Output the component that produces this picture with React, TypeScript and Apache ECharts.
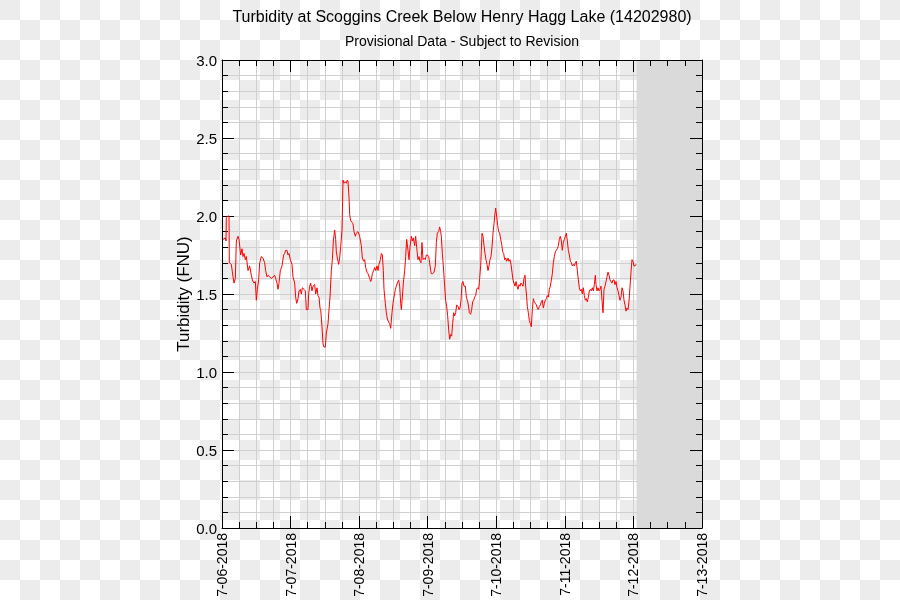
import React, { useEffect, useRef } from "react";
import * as echarts from "echarts";

// Day tick labels (one per 24 h from 7-06-2018 00:00)
const dayLabels = [
  "7-06-2018", "7-07-2018", "7-08-2018", "7-09-2018",
  "7-10-2018", "7-11-2018", "7-12-2018", "7-13-2018",
];

// Y tick values
const yTickMin = 0;
const yTickMax = 3;
const yTickStep = 0.5;

// Turbidity readings: [hours since 7-06-2018 00:00, FNU]
const day1Readings: [number, number][] = [
  [0.35, 1.85], [1.17, 1.86], [1.4, 1.84], [1.52, 1.99], [2.0, 2.0], [2.45, 2.0], [2.57, 1.7],
  [3.27, 1.69], [3.85, 1.61], [4.2, 1.57], [4.67, 1.6], [5.02, 1.84], [5.6, 1.87], [5.95, 1.85],
  [6.53, 1.75], [7.0, 1.79], [7.35, 1.74], [7.7, 1.76], [8.17, 1.72], [8.52, 1.74], [9.1, 1.65],
  [9.68, 1.68], [10.27, 1.62], [10.62, 1.59], [11.2, 1.57], [11.67, 1.58], [12.02, 1.46],
  [12.37, 1.53], [12.83, 1.59], [13.18, 1.7], [13.77, 1.74], [14.35, 1.73], [14.93, 1.7],
  [15.28, 1.65], [15.75, 1.61], [16.1, 1.62], [16.68, 1.61], [17.27, 1.6], [17.85, 1.61],
  [18.43, 1.62], [18.78, 1.6], [19.25, 1.57], [19.6, 1.53], [19.95, 1.57], [20.42, 1.65],
  [21.0, 1.68], [21.58, 1.75], [21.93, 1.76], [22.28, 1.78], [22.75, 1.78], [23.1, 1.75],
  [23.45, 1.76], [23.92, 1.72],
];
const day2Readings: [number, number][] = [
  [24.5, 1.69], [24.85, 1.61], [25.43, 1.57], [25.78, 1.48], [26.13, 1.44], [26.6, 1.47],
  [26.95, 1.52], [27.42, 1.53], [27.77, 1.5], [28.12, 1.54], [28.7, 1.53], [29.17, 1.52],
  [29.52, 1.4], [30.1, 1.4], [30.33, 1.5], [30.68, 1.55], [31.03, 1.57], [31.5, 1.52],
  [31.85, 1.55], [32.43, 1.56], [32.78, 1.5], [33.25, 1.54], [33.6, 1.49], [33.95, 1.48],
  [34.3, 1.41], [34.53, 1.4], [35.0, 1.29], [35.35, 1.18], [35.7, 1.16], [36.17, 1.16],
  [36.52, 1.25], [37.1, 1.31], [37.45, 1.4], [37.8, 1.48], [38.27, 1.65], [38.62, 1.72],
  [38.97, 1.84], [39.43, 1.91], [39.78, 1.85], [40.02, 1.77], [40.37, 1.73], [40.83, 1.69],
  [41.18, 1.73], [41.53, 1.8], [42.0, 1.91], [42.35, 2.23], [42.7, 2.21], [43.17, 2.22],
  [43.52, 2.21], [43.87, 2.23], [44.1, 2.22], [44.45, 2.12], [44.68, 2.01], [45.03, 1.97],
  [45.5, 1.96], [45.85, 1.95], [46.2, 1.9], [46.67, 1.87], [47.02, 1.89], [47.6, 1.9],
];
const day3Readings: [number, number][] = [
  [48.18, 1.87], [48.77, 1.81], [49.12, 1.73], [49.58, 1.71], [49.93, 1.72], [50.28, 1.67],
  [50.75, 1.64], [51.1, 1.63], [51.68, 1.6], [52.03, 1.58], [52.27, 1.59], [52.62, 1.63],
  [53.08, 1.65], [53.43, 1.67], [53.78, 1.65], [54.25, 1.68], [54.6, 1.65], [54.95, 1.69],
  [55.42, 1.72], [55.77, 1.76], [56.12, 1.75], [56.47, 1.65], [56.7, 1.53], [57.17, 1.44],
  [57.52, 1.38], [57.87, 1.34], [58.33, 1.32], [58.68, 1.31], [59.03, 1.28], [59.5, 1.38],
  [59.85, 1.44], [60.2, 1.48], [60.67, 1.53], [61.02, 1.55], [61.37, 1.57], [61.83, 1.59],
  [62.18, 1.55], [62.53, 1.44], [62.77, 1.4], [63.12, 1.48], [63.47, 1.57], [63.93, 1.65],
  [64.28, 1.74], [64.63, 1.85], [65.1, 1.78], [65.45, 1.72], [65.8, 1.8], [66.27, 1.87],
  [66.62, 1.84], [66.97, 1.86], [67.43, 1.81], [67.78, 1.87], [68.13, 1.8], [68.6, 1.72],
  [68.95, 1.74], [69.3, 1.71], [69.65, 1.7], [70.0, 1.83], [70.35, 1.72], [70.7, 1.73],
  [71.17, 1.72], [71.52, 1.75], [71.87, 1.75],
];
const day4Readings: [number, number][] = [
  [72.33, 1.74], [72.68, 1.7], [73.03, 1.65], [73.27, 1.63], [73.73, 1.63], [74.2, 1.64],
  [74.67, 1.68], [75.02, 1.83], [75.37, 1.89], [75.83, 1.9], [76.18, 1.93], [76.53, 1.9],
  [76.77, 1.87], [77.12, 1.76], [77.47, 1.68], [77.93, 1.55], [78.28, 1.46], [78.63, 1.42],
  [78.98, 1.36], [79.33, 1.27], [79.68, 1.21], [80.03, 1.24], [80.38, 1.23], [80.73, 1.31],
  [81.08, 1.38], [81.43, 1.36], [81.78, 1.38], [82.13, 1.43], [82.6, 1.42], [82.95, 1.4],
  [83.3, 1.41], [83.65, 1.46], [84.0, 1.57], [84.35, 1.58], [84.7, 1.55], [85.17, 1.55],
  [85.52, 1.48], [85.87, 1.46], [86.22, 1.43], [86.57, 1.38], [87.03, 1.37], [87.38, 1.4],
  [87.73, 1.45], [88.08, 1.46], [88.43, 1.48], [88.78, 1.49], [89.13, 1.53], [89.48, 1.54],
  [89.83, 1.53], [90.18, 1.6], [90.53, 1.68], [90.77, 1.78], [91.0, 1.89], [91.35, 1.87],
  [91.7, 1.81], [92.05, 1.76], [92.4, 1.72], [92.75, 1.69], [93.1, 1.65], [93.45, 1.68],
  [93.8, 1.72], [94.15, 1.74], [94.5, 1.8], [94.85, 1.89], [95.2, 1.95], [95.43, 2.0],
  [95.78, 2.05],
];
const day5Readings: [number, number][] = [
  [96.13, 2.0], [96.48, 1.94], [96.83, 1.9], [97.18, 1.89], [97.53, 1.85], [97.88, 1.82],
  [98.23, 1.77], [98.58, 1.76], [98.93, 1.72], [99.28, 1.73], [99.63, 1.71], [100.1, 1.73],
  [100.45, 1.71], [100.8, 1.72], [101.15, 1.69], [101.5, 1.64], [101.85, 1.59], [102.2, 1.57],
  [102.55, 1.55], [102.9, 1.58], [103.25, 1.55], [103.6, 1.53], [103.95, 1.56], [104.3, 1.55],
  [104.65, 1.57], [105.0, 1.56], [105.35, 1.55], [105.7, 1.6], [106.05, 1.62], [106.28, 1.55],
  [106.63, 1.48], [106.87, 1.42], [107.22, 1.38], [107.57, 1.33], [107.92, 1.31], [108.27, 1.29],
  [108.62, 1.4], [108.97, 1.47], [109.32, 1.45], [109.67, 1.44], [110.02, 1.43], [110.37, 1.41],
  [110.72, 1.4], [111.07, 1.42], [111.42, 1.43], [111.77, 1.45], [112.12, 1.46], [112.47, 1.41],
  [112.82, 1.44], [113.17, 1.46], [113.52, 1.47], [113.87, 1.49], [114.22, 1.48], [114.57, 1.53],
  [114.92, 1.55], [115.27, 1.59], [115.62, 1.63], [115.97, 1.7], [116.32, 1.74], [116.67, 1.77],
  [117.02, 1.78], [117.37, 1.79], [117.72, 1.81], [118.07, 1.85], [118.42, 1.87], [118.77, 1.84],
  [119.12, 1.78], [119.47, 1.83], [119.82, 1.85],
];
const day6Readings: [number, number][] = [
  [120.17, 1.87], [120.52, 1.89], [120.87, 1.84], [121.22, 1.78], [121.57, 1.75], [121.92, 1.71],
  [122.27, 1.7], [122.62, 1.68], [122.97, 1.69], [123.32, 1.68], [123.67, 1.7], [124.02, 1.71],
  [124.37, 1.65], [124.72, 1.59], [125.07, 1.54], [125.42, 1.52], [125.77, 1.53], [126.12, 1.5],
  [126.47, 1.54], [126.82, 1.49], [127.17, 1.46], [127.52, 1.47], [127.87, 1.45], [128.22, 1.48],
  [128.57, 1.52], [128.92, 1.53], [129.27, 1.52], [129.62, 1.54], [129.97, 1.52], [130.32, 1.56],
  [130.67, 1.62], [130.9, 1.56], [131.25, 1.52], [131.6, 1.54], [131.95, 1.52], [132.3, 1.53],
  [132.65, 1.55], [133.0, 1.46], [133.35, 1.38], [133.7, 1.53], [134.05, 1.55], [134.4, 1.58],
  [134.75, 1.61], [135.1, 1.64], [135.45, 1.62], [135.8, 1.59], [136.15, 1.58], [136.5, 1.57],
  [136.85, 1.59], [137.2, 1.59], [137.55, 1.56], [137.9, 1.58], [138.25, 1.54], [138.6, 1.52],
  [138.95, 1.49], [139.3, 1.46], [139.65, 1.48], [140.0, 1.54], [140.35, 1.52], [140.7, 1.46],
  [141.05, 1.43], [141.4, 1.39], [141.75, 1.41], [142.1, 1.4], [142.45, 1.45], [142.8, 1.55],
  [143.15, 1.64],
];
const day7Readings: [number, number][] = [
  [143.5, 1.72], [143.85, 1.71], [144.2, 1.68], [144.55, 1.68], [144.9, 1.69], [145.13, 1.69],
];

const FONT = "'Liberation Sans', Arial, Helvetica, sans-serif";

export default function App() {
  const ref = useRef<HTMLDivElement>(null);

  useEffect(() => {
    if (!ref.current) return;
    const chart = echarts.init(ref.current, undefined, { renderer: "svg" });
    const readings = [
      ...day1Readings, ...day2Readings, ...day3Readings, ...day4Readings,
      ...day5Readings, ...day6Readings, ...day7Readings,
    ];
    const lastHour = readings[readings.length - 1][0];
    const xMax = (dayLabels.length - 1) * 24;
    const black = "#000";
    const gridColor = "#d0d0d0";

    const tickAxisCommon = {
      axisLine: { show: true, onZero: false, lineStyle: { color: black, width: 1 } },
      axisTick: { show: true, inside: true, length: 12, lineStyle: { color: black, width: 1 } },
      minorTick: { show: true, length: 6, lineStyle: { color: black, width: 1 } },
      splitLine: { show: false },
    };

    const option = {
      animation: false,
      backgroundColor: "transparent",
      textStyle: { fontFamily: FONT },
      title: [
        {
          text: "Turbidity at Scoggins Creek Below Henry Hagg Lake (14202980)",
          left: 462,
          top: 8,
          padding: 0,
          textAlign: "center",
          textStyle: { fontFamily: FONT, fontSize: 16, fontWeight: "normal", color: black },
        },
        {
          text: "Provisional Data - Subject to Revision",
          left: 462,
          top: 34,
          padding: 0,
          textAlign: "center",
          textStyle: { fontFamily: FONT, fontSize: 14, fontWeight: "normal", color: black },
        },
      ],
      grid: { left: 222, right: 198, top: 60, bottom: 72 },
      xAxis: [
        {
          type: "value",
          min: 0,
          max: xMax,
          interval: 24,
          position: "bottom",
          z: 5,
          ...tickAxisCommon,
          minorTick: { ...tickAxisCommon.minorTick, splitNumber: 4 },
          axisLabel: {
            show: true,
            rotate: 90,
            margin: 5,
            fontSize: 14,
            fontFamily: FONT,
            color: black,
            formatter: (v: number) => dayLabels[Math.round(v / 24)] ?? "",
          },
        },
        {
          type: "value",
          min: 0,
          max: xMax,
          interval: 24,
          position: "top",
          z: 5,
          ...tickAxisCommon,
          minorTick: { ...tickAxisCommon.minorTick, splitNumber: 4 },
          axisLabel: { show: false },
        },
        {
          type: "value",
          min: 0,
          max: xMax,
          interval: 24,
          position: "top",
          z: 0,
          axisLine: { show: false, onZero: false },
          axisTick: { show: false },
          axisLabel: { show: false },
          minorTick: { show: false, splitNumber: 4 },
          splitLine: { show: true, lineStyle: { color: gridColor, width: 1 } },
          minorSplitLine: { show: true, lineStyle: { color: gridColor, width: 1 } },
        },
      ],
      yAxis: [
        {
          type: "value",
          min: yTickMin,
          max: yTickMax,
          interval: yTickStep,
          position: "left",
          z: 0,
          name: "Turbidity (FNU)",
          nameLocation: "middle",
          nameRotate: 90,
          nameGap: 30,
          nameMoveOverlap: false,
          nameTextStyle: { fontFamily: FONT, fontSize: 17, color: black },
          axisLine: { show: true, onZero: false, lineStyle: { color: black, width: 1 } },
          axisTick: { show: true, inside: true, length: 12, lineStyle: { color: black, width: 1 } },
          minorTick: { show: true, splitNumber: 5, length: 6, lineStyle: { color: black, width: 1 } },
          splitLine: { show: true, lineStyle: { color: gridColor, width: 1 } },
          minorSplitLine: { show: true, lineStyle: { color: gridColor, width: 1 } },
          axisLabel: {
            show: true,
            margin: 5,
            fontSize: 15,
            fontFamily: FONT,
            color: black,
            formatter: (v: number) => v.toFixed(1),
          },
        },
        {
          type: "value",
          min: yTickMin,
          max: yTickMax,
          interval: yTickStep,
          position: "right",
          z: 5,
          ...tickAxisCommon,
          minorTick: { ...tickAxisCommon.minorTick, splitNumber: 5 },
          axisLabel: { show: false },
        },
      ],
      series: [
        {
          type: "line",
          xAxisIndex: 0,
          yAxisIndex: 0,
          data: readings,
          symbol: "none",
          lineStyle: { color: "#ff0000", width: 1 },
          itemStyle: { color: "#ff0000" },
          markArea: {
            silent: true,
            itemStyle: { color: "#dadada", opacity: 1 },
            data: [[{ xAxis: lastHour }, { xAxis: xMax }]],
          },
        },
      ],
    };

    chart.setOption(option as any);
    return () => chart.dispose();
  }, []);

  return (
    <div
      ref={ref}
      style={{
        position: "fixed",
        left: 0,
        top: 0,
        width: 900,
        height: 600,
        background:
          "repeating-conic-gradient(#ffffff 0% 25%, #ececec 0% 50%) 0 0 / 40px 40px",
      }}
    />
  );
}
